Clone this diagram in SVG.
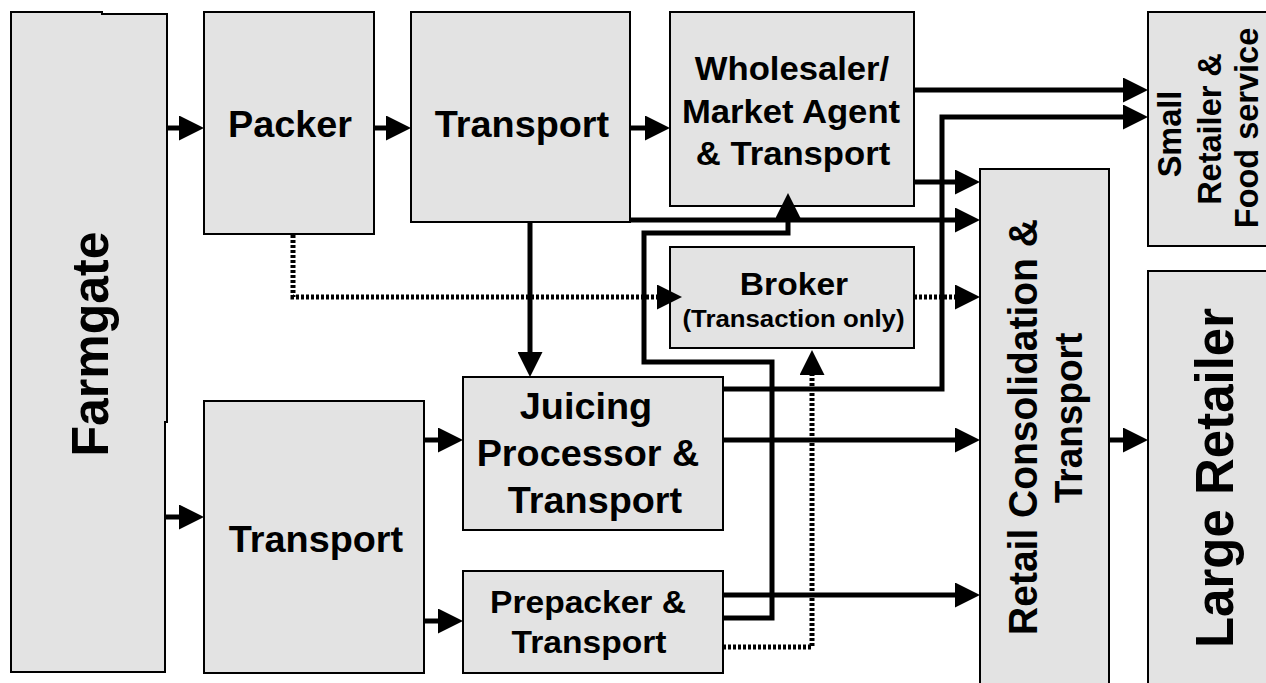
<svg xmlns="http://www.w3.org/2000/svg" width="1266" height="683" viewBox="0 0 1266 683">
<style>
.box{fill:#e3e3e3;stroke:#000;stroke-width:2}
.t{font-family:"Liberation Sans",Arial,sans-serif;font-weight:bold;fill:#000;text-anchor:middle}
.c{fill:none;stroke:#000;stroke-width:5;stroke-linejoin:miter;marker-end:url(#ah)}
.d{fill:none;stroke:#000;stroke-width:5;stroke-dasharray:3 2;marker-end:url(#ah)}
</style>
<defs>
<marker id="ah" markerUnits="userSpaceOnUse" markerWidth="25" markerHeight="25" viewBox="0 0 25 25" refX="0" refY="12.5" orient="auto">
<path d="M0,0 L25,12.5 L0,25 z" fill="#000" stroke="none"/>
</marker>
</defs>
<rect width="1266" height="683" fill="#fff"/>

<g id="farmgate">
<path class="box" d="M11,12 H102 V14 H167 V422 H165 V672 H11 Z"/>
<text class="t" font-size="50" transform="translate(108,344) scale(1.05,1) rotate(-90)">Farmgate</text>
</g>
<g id="packer">
<rect class="box" x="204" y="12" width="170" height="222"/>
<text class="t" font-size="36" transform="translate(290,137) scale(1.05,1)">Packer</text>
</g>
<g id="transport-top">
<rect class="box" x="411" y="12" width="219" height="210"/>
<text class="t" font-size="36" transform="translate(522,137) scale(1.05,1)">Transport</text>
</g>
<g id="wholesaler">
<rect class="box" x="670" y="12" width="244" height="194"/>
<text class="t" font-size="33" transform="translate(792,80) scale(1.05,1)">Wholesaler/</text>
<text class="t" font-size="33" transform="translate(791,123) scale(1.05,1)">Market Agent</text>
<text class="t" font-size="33" transform="translate(793,165) scale(1.05,1)">&amp; Transport</text>
</g>
<g id="small-retailer">
<rect class="box" x="1148" y="12" width="130" height="234"/>
<text class="t" font-size="32.5" transform="translate(1181,134) scale(1.05,1) rotate(-90)">Small</text>
<text class="t" font-size="32.5" transform="translate(1221,129) scale(1.05,1) rotate(-90)">Retailer &amp;</text>
<text class="t" font-size="32.5" transform="translate(1258,128) scale(1.05,1) rotate(-90)">Food service</text>
</g>
<g id="broker">
<rect class="box" x="670" y="247" width="244" height="101"/>
<text class="t" font-size="32" transform="translate(794,295) scale(1.05,1)">Broker</text>
<text class="t" font-size="23" x="793.5" y="327" textLength="222" lengthAdjust="spacingAndGlyphs">(Transaction only)</text>
</g>
<g id="retail-consolidation">
<rect class="box" x="980" y="169" width="129" height="530"/>
<text class="t" font-size="39" transform="translate(1037,427) scale(1.05,1) rotate(-90)">Retail Consolidation &amp;</text>
<text class="t" font-size="37" transform="translate(1082,418) scale(1.05,1) rotate(-90)">Transport</text>
</g>
<g id="large-retailer">
<rect class="box" x="1148" y="271" width="130" height="430"/>
<text class="t" font-size="51" transform="translate(1233,478) scale(1.05,1) rotate(-90)">Large Retailer</text>
</g>
<g id="transport-bottom">
<rect class="box" x="204" y="401" width="220" height="272"/>
<text class="t" font-size="36" transform="translate(316,552) scale(1.05,1)">Transport</text>
</g>
<g id="juicing">
<rect class="box" x="463" y="377" width="260" height="153"/>
<text class="t" font-size="36" transform="translate(586,419) scale(1.05,1)">Juicing</text>
<text class="t" font-size="36" transform="translate(588,466) scale(1.05,1)">Processor &amp;</text>
<text class="t" font-size="36" transform="translate(595,513) scale(1.05,1)">Transport</text>
</g>
<g id="prepacker">
<rect class="box" x="463" y="571" width="260" height="102"/>
<text class="t" font-size="32" transform="translate(588,613) scale(1.05,1)">Prepacker &amp;</text>
<text class="t" font-size="32" transform="translate(589,653) scale(1.05,1)">Transport</text>
</g>

<g id="connectors">
<path class="c" d="M167,128 H179"/>
<path class="c" d="M374,128 H386"/>
<path class="c" d="M630,128 H645"/>
<path class="c" d="M165,517 H179"/>
<path class="c" d="M424,440 H438"/>
<path class="c" d="M424,621 H438"/>
<path class="c" d="M530,222 V352"/>
<path class="d" d="M293,235 V297 H657"/>
<path class="d" d="M914,297 H955"/>
<path class="c" d="M914,90 H1123"/>
<path class="c" d="M914,182 H955"/>
<path class="c" d="M630,220 H955"/>
<path class="c" d="M723,389 H942 V117 H1123"/>
<path class="c" d="M723,618 H772 V362 H644 V233 H788 V218"/>
<path class="c" d="M723,440 H955"/>
<path class="c" d="M723,595 H955"/>
<path class="d" d="M723,647 H812 V375"/>
<path class="c" d="M1109,440 H1123"/>
</g>
</svg>
